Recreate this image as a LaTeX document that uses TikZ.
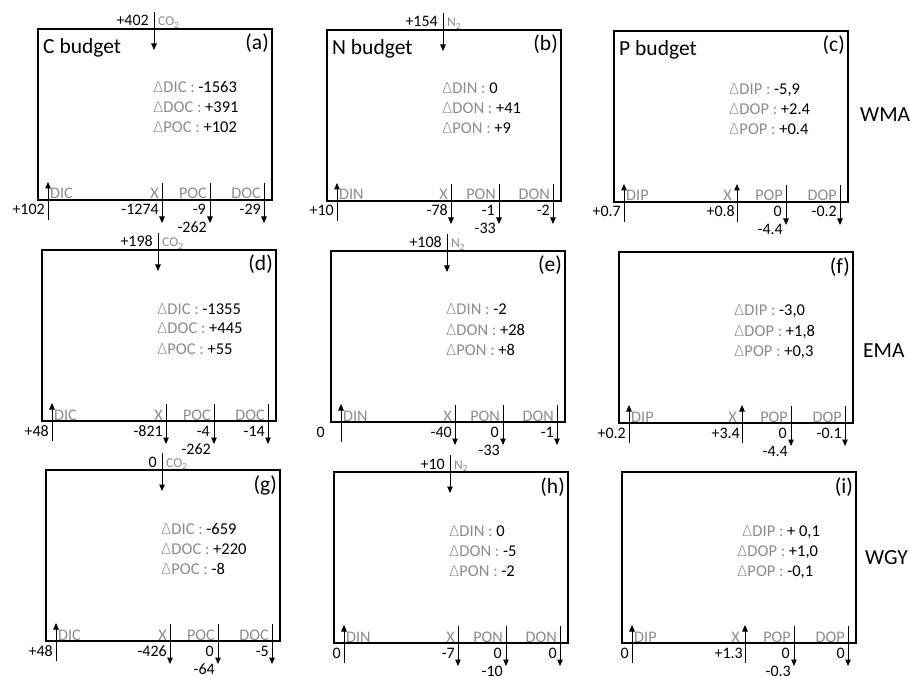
\documentclass[tikz,border=0pt]{standalone}
\usepackage{fontspec}
\setmainfont{Carlito}
\newfontfamily\thinfont{DejaVu Sans ExtraLight}
\usetikzlibrary{arrows.meta}
\definecolor{lbl}{gray}{0.55}
\newif\ifxup
\def\dicshift{0}
\newcommand\dl{{\thinfont\fontsize{15}{16}\selectfont Δ}}
\tikzset{
  flux/.style={line width=1pt, -{Triangle[length=6.5pt,width=5.5pt]}},
  budgetbox/.style={draw, line width=1.2pt, minimum width=234pt, minimum height=171pt, inner sep=0pt, outer sep=0pt, anchor=north west},
  lab/.style={text=lbl, font=\fontsize{16.2}{16}\selectfont, inner sep=0pt},
  val/.style={text=black, font=\fontsize{16}{16}\selectfont, inner sep=0pt},
  gas/.style={text=lbl, font=\fontsize{13.5}{13}\selectfont, inner sep=0pt},
  ttl/.style={font=\fontsize{21.5}{22}\selectfont, inner sep=0pt},
  dline/.style={font=\fontsize{16.5}{17}\selectfont, inner sep=0pt, anchor=base west},
}
% bottom row: #1 prefix, #2 dissolved inorganic label, #3 particulate label, #4 dissolved organic label,
% #5 DI value, #6 X value, #7 particulate value, #8 sediment value, #9 DO value
\newcommand\bottomrow[9]{%
  \coordinate (#1-di-s) at (10,191); \coordinate (#1-di-e) at (10,153);
  \draw[flux] (#1-di-s) -- (#1-di-e);
  \node[lab, anchor=base west] (#1-di-l) at (12,170) {#2};
  \node[val, anchor=base east] (#1-di-v) at (7+\dicshift,186) {#5};
  \ifxup
    \coordinate (#1-x-s) at (123,191); \coordinate (#1-x-e) at (123,153);
    \node[lab, anchor=base east] (#1-x-l) at (118,170) {X};
    \node[val, anchor=base east] (#1-x-v) at (121,186) {#6};
  \else
    \coordinate (#1-x-s) at (124,154); \coordinate (#1-x-e) at (124,194);
    \node[lab, anchor=base east] (#1-x-l) at (121,170) {X};
    \node[val, anchor=base east] (#1-x-v) at (121,186) {#6};
  \fi
  \draw[flux] (#1-x-s) -- (#1-x-e);
  \coordinate (#1-p-s) at (172,154); \coordinate (#1-p-e) at (172,194);
  \draw[flux] (#1-p-s) -- (#1-p-e);
  \node[lab, anchor=base east] (#1-p-l) at (169,170) {#3};
  \node[val, anchor=base east] (#1-p-v) at (168,186) {#7};
  \node[val, anchor=base east] (#1-sed) at (169,204) {#8};
  \coordinate (#1-do-s) at (226,154); \coordinate (#1-do-e) at (226,194);
  \draw[flux] (#1-do-s) -- (#1-do-e);
  \node[lab, anchor=base east] (#1-do-l) at (223,170) {#4};
  \node[val, anchor=base east] (#1-do-v) at (223,186) {#9};
}
\newcommand\topflux[3]{%
  \coordinate (#1-t-s) at (116,-17); \coordinate (#1-t-e) at (116,21);
  \draw[flux] (#1-t-s) -- (#1-t-e);
  \node[val, anchor=base east] (#1-t-v) at (111,-3) {#2};
  \node[gas, anchor=base west] (#1-t-g) at (120,-3) {#3};
}
\newcommand\deltas[7]{%
  \node[dline] (#1-d1) at (115,64) {{\color{lbl}\dl#2 :} #3};
  \node[dline] (#1-d2) at (115,84) {{\color{lbl}\dl#4 :} #5};
  \node[dline] (#1-d3) at (115,104) {{\color{lbl}\dl#6 :} #7};
}
\begin{document}
\begin{tikzpicture}[x=1pt,y=-1pt]
\useasboundingbox (0,0) rectangle (910,676);
% ---- row 1 (WMA)
\begin{scope}[shift={(38,29)}]
  \node[budgetbox] (boxa) at (0,0) {};
  \node[ttl, anchor=base west] (ta) at (5,25) {C budget};
  \node[ttl, anchor=base east] (la) at (231,21) {(a)};
  \topflux{a}{+402}{CO\textsubscript{2}}
  \deltas{a}{DIC}{-1563}{DOC}{+391}{POC}{+102}
  \xupfalse
  \bottomrow{a}{DIC}{POC}{DOC}{+102}{-1274}{-9}{-262}{-29}
\end{scope}
\begin{scope}[shift={(327,30)}]
  \node[budgetbox] (boxb) at (0,0) {};
  \node[ttl, anchor=base west] (tb) at (5,25) {N budget};
  \node[ttl, anchor=base east] (lb) at (231,21) {(b)};
  \topflux{b}{+154}{N\textsubscript{2}}
  \deltas{b}{DIN}{0}{DON}{+41}{PON}{+9}
  \xupfalse
  \bottomrow{b}{DIN}{PON}{DON}{+10}{-78}{-1}{-33}{-2}
\end{scope}
\begin{scope}[shift={(614,31)}]
  \node[budgetbox] (boxc) at (0,0) {};
  \node[ttl, anchor=base west] (tc) at (5,25) {P budget};
  \node[ttl, anchor=base east] (lc) at (231,21) {(c)};
  \deltas{c}{DIP}{-5,9}{DOP}{+2.4}{POP}{+0.4}
  \xuptrue
  \bottomrow{c}{DIP}{POP}{DOP}{+0.7}{+0.8}{0}{-4.4}{-0.2}
\end{scope}
\node[ttl, anchor=base west] (wma) at (860,122) {WMA};
% ---- row 2 (EMA)
\begin{scope}[shift={(42,250)}]
  \node[budgetbox] (boxd) at (0,0) {};
  \node[ttl, anchor=base east] (ld) at (231,21) {(d)};
  \topflux{d}{+198}{CO\textsubscript{2}}
  \deltas{d}{DIC}{-1355}{DOC}{+445}{POC}{+55}
  \xupfalse
  \bottomrow{d}{DIC}{POC}{DOC}{+48}{-821}{-4}{-262}{-14}
\end{scope}
\begin{scope}[shift={(331,251)}]
  \node[budgetbox] (boxe) at (0,0) {};
  \node[ttl, anchor=base east] (le) at (231,21) {(e)};
  \topflux{e}{+108}{N\textsubscript{2}}
  \deltas{e}{DIN}{-2}{DON}{+28}{PON}{+8}
  \xupfalse
  \def\dicshift{-13}
  \bottomrow{e}{DIN}{PON}{DON}{0}{-40}{0}{-33}{-1}
  \def\dicshift{0}
\end{scope}
\begin{scope}[shift={(619,252)}]
  \node[budgetbox] (boxf) at (0,0) {};
  \node[ttl, anchor=base east] (lf) at (231,21) {(f)};
  \deltas{f}{DIP}{-3,0}{DOP}{+1,8}{POP}{+0,3}
  \xuptrue
  \bottomrow{f}{DIP}{POP}{DOP}{+0.2}{+3.4}{0}{-4.4}{-0.1}
\end{scope}
\node[ttl, anchor=base west] (ema) at (863,357) {EMA};
% ---- row 3 (WGY)
\begin{scope}[shift={(46,470)}]
  \node[budgetbox] (boxg) at (0,0) {};
  \node[ttl, anchor=base east] (lg) at (231,21) {(g)};
  \topflux{g}{0}{CO\textsubscript{2}}
  \deltas{g}{DIC}{-659}{DOC}{+220}{POC}{-8}
  \xupfalse
  \bottomrow{g}{DIC}{POC}{DOC}{+48}{-426}{0}{-64}{-5}
\end{scope}
\begin{scope}[shift={(334,472)}]
  \node[budgetbox] (boxh) at (0,0) {};
  \node[ttl, anchor=base east] (lh) at (231,21) {(h)};
  \topflux{h}{+10}{N\textsubscript{2}}
  \deltas{h}{DIN}{0}{DON}{-5}{PON}{-2}
  \xupfalse
  \bottomrow{h}{DIN}{PON}{DON}{0}{-7}{0}{-10}{0}
\end{scope}
\begin{scope}[shift={(622,472)}]
  \node[budgetbox] (boxi) at (0,0) {};
  \node[ttl, anchor=base east] (li) at (231,21) {(i)};
  \node[dline] (i-d1) at (120,64) {{\color{lbl}\dl DIP :} + 0,1};
  \node[dline] (i-d2) at (115,84) {{\color{lbl}\dl DOP :} +1,0};
  \node[dline] (i-d3) at (115,104) {{\color{lbl}\dl POP :} -0,1};
  \xuptrue
  \bottomrow{i}{DIP}{POP}{DOP}{0}{+1.3}{0}{-0.3}{0}
\end{scope}
\node[ttl, anchor=base west] (wgy) at (865,564) {WGY};
\end{tikzpicture}
\end{document}
